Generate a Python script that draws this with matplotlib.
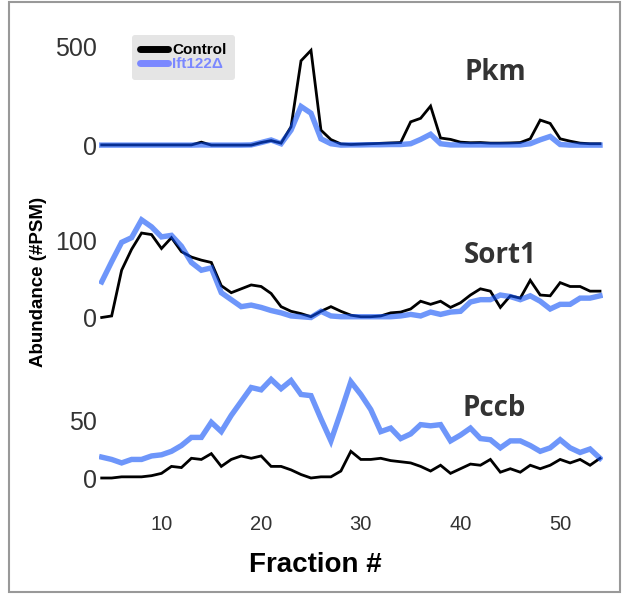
import numpy as np
import matplotlib
matplotlib.use('Agg')
import matplotlib.pyplot as plt
from matplotlib.lines import Line2D
from matplotlib.patches import Rectangle

plt.rcParams['font.family'] = ['Liberation Sans', 'DejaVu Sans']

fractions = np.arange(4, 55)

pkm_control = [3, 3, 3, 3, 3, 3, 3, 3, 3, 3, 17, 2, 2, 2, 2, 2, 15, 25, 12, 95,
               430, 483, 78, 30, 8, 5, 7, 9, 11, 13, 15, 120, 138, 200, 38, 31, 17,
               14, 15, 12, 12, 13, 15, 34, 129, 112, 34, 22, 12, 9, 9]
pkm_ift = [2, 2, 2, 2, 2, 2, 2, 2, 2, 2, 3, 2, 2, 2, 2, 3, 15, 28, 9, 78,
           198, 164, 34, 9, 2, 3, 3, 4, 4, 5, 5, 9, 31, 57, 9, 3, 3,
           3, 3, 3, 3, 3, 3, 9, 29, 46, 5, 2, 2, 2, 2]

sort1_control = [0, 2, 61, 88, 109, 107, 89, 103, 85, 78, 74, 71, 41, 32, 37, 42, 40,
                 31, 14, 8, 5, 1, 8, 14, 8, 3, 1, 1, 2, 6, 7, 11, 21, 17, 21, 13,
                 19, 29, 37, 34, 13, 28, 25, 48, 29, 28, 45, 40, 40, 34, 34]
sort1_ift = [46, 72, 97, 103, 126, 117, 104, 106, 92, 71, 61, 64, 32, 23, 14, 16, 13,
             9, 6, 2, 1, 0, 8, 2, 1, 1, 1, 1, 1, 1, 2, 4, 2, 7, 4, 7,
             8, 20, 23, 23, 29, 27, 23, 28, 21, 11, 17, 17, 25, 25, 28]

pccb_control = [0, 0, 1, 1, 1, 2, 4, 10, 9, 17, 16, 21, 10, 16, 19, 17, 19,
                10, 10, 7, 3, 0, 1, 1, 6, 23, 16, 16, 17, 15, 14, 13, 10, 6, 11, 4,
                8, 12, 11, 16, 5, 8, 5, 11, 8, 11, 16, 13, 16, 11, 17]
pccb_ift = [18, 16, 13, 16, 16, 19, 20, 23, 28, 35, 35, 48, 40, 54, 66, 78, 76,
            85, 77, 84, 72, 71, 51, 32, 57, 83, 72, 59, 40, 43, 34, 38, 46, 45, 46, 32,
            37, 43, 34, 33, 26, 32, 32, 28, 23, 26, 33, 26, 22, 25, 17]

genes = ['Pkm', 'Sort1', 'Pccb']
yticks = [[0, 500], [0, 100], [0, 50]]
series = [(pkm_control, pkm_ift), (sort1_control, sort1_ift), (pccb_control, pccb_ift)]

W, H = 632, 595
fig = plt.figure(figsize=(W / 100, H / 100), dpi=100)

# (zero line px from top, px per unit, ylim low, ylim high, label baseline px, label x px)
panels = [(145.5, 0.197, -40, 570, 79.5, 495),
          (317.5, 0.775, -12, 145, 263, 500),
          (478.0, 1.16, -12, 95, 416, 494)]

blue = (13 / 255, 80 / 255, 247 / 255)
x_left, x_right = 98.7, 603.0

for i, (zero, unit, lo, hi, lab_y, lab_x) in enumerate(panels):
    y_bot = zero - lo * unit
    rect = [x_left / W, 1 - y_bot / H, (x_right - x_left) / W, (hi - lo) * unit / H]
    ax = fig.add_axes(rect)
    ax.patch.set_alpha(0)
    ctrl, ift = series[i]
    ax.plot(fractions, ctrl, color='black', lw=2.0, solid_joinstyle='miter', zorder=2)
    ax.plot(fractions, ift, color=blue, alpha=0.6, lw=3.9, solid_joinstyle='miter', zorder=3)
    ax.set_xlim(3.7, 54.3)
    ax.set_ylim(lo, hi)
    ax.set_yticks(yticks[i])
    ax.tick_params(axis='y', length=0, pad=1, labelsize=18, labelcolor='#333333')
    for s in ax.spines.values():
        s.set_visible(False)
    if i < 2:
        ax.set_xticks([])
    else:
        ax.set_xticks([10, 20, 30, 40, 50])
        ax.tick_params(axis='x', length=0, pad=16.5, labelsize=14.5, labelcolor='#333333')
    fig.text(lab_x / W, 1 - lab_y / H, genes[i], ha='center', va='baseline',
             fontsize=20, fontweight='bold', color='#333333', family='Open Sans')

fig.text(315 / W, 1 - 565 / H, 'Fraction #', ha='center', va='center',
         fontsize=20, fontweight='bold', color='black')
fig.text(39 / W, 1 - 282 / H, 'Abundance (#PSM)', ha='center', va='center',
         rotation=90, fontsize=13.5, fontweight='bold', color='black')

handles = [Line2D([], [], color='black', lw=5, solid_capstyle='round'),
           Line2D([], [], color='#7b88ff', lw=5, solid_capstyle='round')]
leg = fig.legend(handles, ['Control', 'Ift122\u0394'], loc='upper left',
                 bbox_to_anchor=(132 / W, 1 - 35 / H),
                 prop={'weight': 'bold', 'size': 11}, facecolor='#e5e5e5',
                 edgecolor='none', framealpha=1, fancybox=True,
                 handlelength=1.8, handletextpad=0.3, labelspacing=0.0,
                 borderpad=0.55, borderaxespad=0)
leg.get_texts()[1].set_color('#7b88ff')

fig.patches.append(Rectangle((9 / W, 1 - 592 / H), 611 / W, 590 / H,
                             transform=fig.transFigure, fill=False,
                             edgecolor='#999999', lw=1.5))

fig.savefig('out.png', dpi=100)
